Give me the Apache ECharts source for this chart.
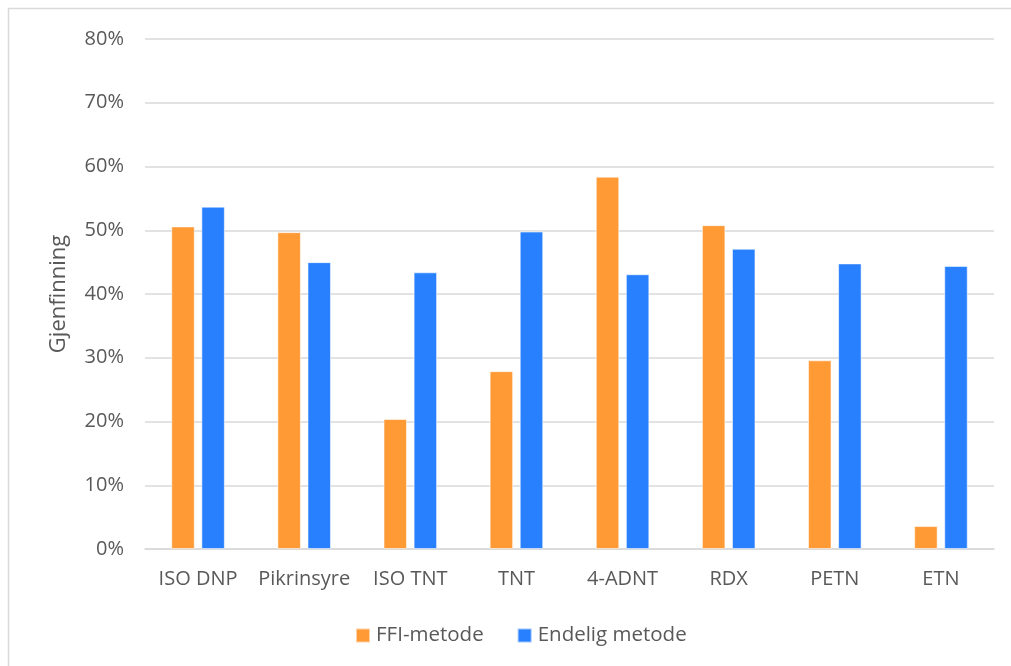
<!DOCTYPE html>
<html>
<head>
<meta charset="utf-8">
<script src="https://cdn.jsdelivr.net/npm/echarts@6/dist/echarts.min.js"></script>
<style>
  html, body { margin: 0; padding: 0; background: #fff; }
  #chart { width: 1011px; height: 666px; }
</style>
</head>
<body>
<div id="chart"></div>
<script>
// Recovery (gjenfinning) per compound, two methods, in percent
const categories = ['ISO DNP', 'Pikrinsyre', 'ISO TNT', 'TNT', '4-ADNT', 'RDX', 'PETN', 'ETN'];
const ffiMetode = [50.6, 49.7, 20.4, 27.9, 58.4, 50.8, 29.6, 3.6];
const endeligMetode = [53.7, 45.0, 43.4, 49.8, 43.1, 47.1, 44.8, 44.4];
const seriesNames = ['FFI-metode', 'Endelig metode'];
const yTicks = { min: 0, max: 80, interval: 10 };

const FONT = '"Open Sans", Lato, sans-serif';
const TEXT = '#595959';
const GRID = '#d9d9d9';

const chart = echarts.init(document.getElementById('chart'), null, { renderer: 'canvas' });

chart.setOption({
  animation: false,
  backgroundColor: '#ffffff',
  textStyle: { fontFamily: FONT },
  graphic: [{
    type: 'rect',
    shape: { x: 8.5, y: 8.5, width: 1040, height: 700 },
    style: { fill: 'none', stroke: '#d9d9d9', lineWidth: 1.5 },
    silent: true
  }],
  grid: { left: 145, right: 17, top: 39, bottom: 117, containLabel: false },
  legend: {
    top: 620,
    left: 350,
    itemWidth: 14,
    itemHeight: 14,
    itemGap: 33,
    icon: 'rect',
    textStyle: { color: TEXT, fontSize: 20.5, fontFamily: FONT, padding: [0, 0, 0, 1] },
    data: seriesNames
  },
  xAxis: {
    type: 'category',
    data: categories,
    axisLine: { lineStyle: { color: GRID, width: 1.5 } },
    axisTick: { show: false },
    axisLabel: { color: TEXT, fontSize: 20, fontFamily: FONT, margin: 20, interval: 0 }
  },
  yAxis: {
    type: 'value',
    min: yTicks.min,
    max: yTicks.max,
    interval: yTicks.interval,
    name: 'Gjenfinning',
    nameLocation: 'middle',
    nameGap: 75,
    nameRotate: 90,
    nameTextStyle: { color: TEXT, fontSize: 22, fontFamily: FONT },
    axisLine: { show: false },
    axisTick: { show: false },
    axisLabel: { color: TEXT, fontSize: 20, fontFamily: FONT, margin: 21, formatter: v => v + '%' },
    splitLine: { lineStyle: { color: GRID, width: 1.5 } }
  },
  series: [
    {
      name: seriesNames[0],
      type: 'bar',
      data: ffiMetode,
      barWidth: 23.5,
      barGap: '28%',
      itemStyle: { color: '#ff9a35', borderColor: 'rgba(255,255,255,0.55)', borderWidth: 1 }
    },
    {
      name: seriesNames[1],
      type: 'bar',
      data: endeligMetode,
      barWidth: 23.5,
      barGap: '28%',
      itemStyle: { color: '#2980ff', borderColor: 'rgba(255,255,255,0.55)', borderWidth: 1 }
    }
  ]
});
</script>
</body>
</html>
